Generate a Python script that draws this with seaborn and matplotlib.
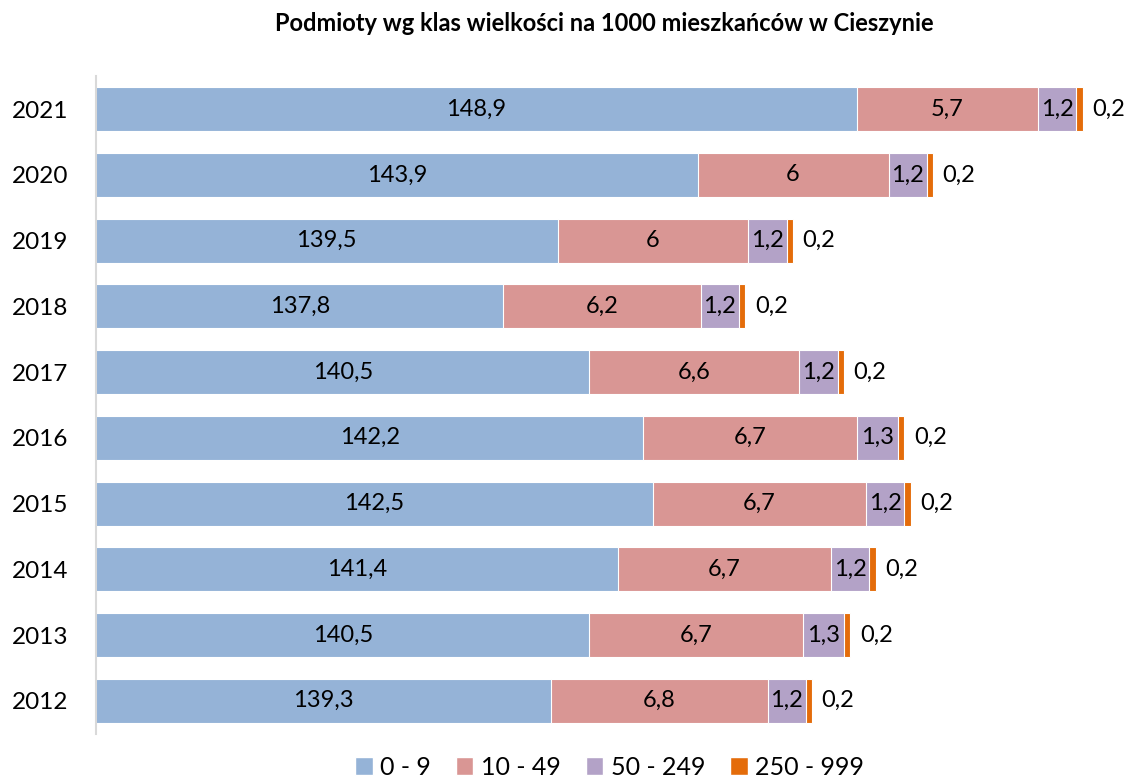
import pandas as pd
import matplotlib.pyplot as plt
import seaborn as sns
from matplotlib.patches import Patch

# dane
lata = ['2021', '2020', '2019', '2018', '2017', '2016', '2015', '2014', '2013', '2012']
klasa_0_9 = [148.9, 143.9, 139.5, 137.8, 140.5, 142.2, 142.5, 141.4, 140.5, 139.3]
klasa_10_49 = [5.7, 6, 6, 6.2, 6.6, 6.7, 6.7, 6.7, 6.7, 6.8]
klasa_50_249 = [1.2, 1.2, 1.2, 1.2, 1.2, 1.3, 1.2, 1.2, 1.3, 1.2]
klasa_250_999 = [0.2, 0.2, 0.2, 0.2, 0.2, 0.2, 0.2, 0.2, 0.2, 0.2]

nazwy = ['0 - 9', '10 - 49', '50 - 249', '250 - 999']
kolory = ['#95B3D7', '#D99694', '#B3A2C7', '#E46C0A']

df = pd.DataFrame({'rok': lata, '0 - 9': klasa_0_9, '10 - 49': klasa_10_49,
                   '50 - 249': klasa_50_249, '250 - 999': klasa_250_999})
cum = df[nazwy].cumsum(axis=1)

sns.set_style('white')
plt.rcParams['font.family'] = ['Lato', 'DejaVu Sans']
plt.rcParams['text.color'] = 'black'
plt.rcParams['ytick.color'] = 'black'

fig = plt.figure(figsize=(11.29, 7.78), dpi=100)
ax = fig.add_axes([0.085, 0.057, 0.905, 0.845])

# skumulowane słupki - od najdłuższego
for i in range(len(nazwy) - 1, -1, -1):
    sns.barplot(x=cum[nazwy[i]], y=df['rok'], order=lata, orient='h', color=kolory[i],
                width=0.67, edgecolor='white', linewidth=0.8, saturation=1, ax=ax)

ax.set_xlim(125, 157.1)
ax.set_xlabel('')
ax.set_ylabel('')
ax.set_xticks([])
ax.tick_params(axis='y', labelsize=17.5, length=0, pad=20)
for s in ['top', 'right', 'bottom']:
    ax.spines[s].set_visible(False)
ax.spines['left'].set_color('#D9D9D9')
ax.spines['left'].set_linewidth(1.5)

# etykiety
for j in range(len(lata)):
    start = 125
    for i, n in enumerate(nazwy):
        v = df[n][j]
        end = cum[n][j]
        txt = str(v).replace('.', ',')
        if txt.endswith(',0'):
            txt = txt[:-2]
        if i < 3:
            ax.text((max(start, 125) + end) / 2, j, txt, ha='center', va='center', fontsize=17)
        else:
            ax.text(end + 0.3, j, txt, ha='left', va='center', fontsize=17)
        start = end

fig.suptitle('Podmioty wg klas wielkości na 1000 mieszkańców w Cieszynie',
             fontsize=17, fontweight='bold', x=0.535, y=0.985)

uchwyty = [Patch(facecolor=k, label=n) for k, n in zip(kolory, nazwy)]
fig.legend(handles=uchwyty, loc='lower center', ncol=4, frameon=False, fontsize=18,
           bbox_to_anchor=(0.54, -0.03), handlelength=0.7, handleheight=0.7,
           handletextpad=0.3, columnspacing=1.0)

plt.savefig('out.png', dpi=100)
